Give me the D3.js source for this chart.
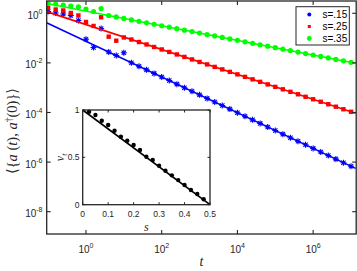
<!DOCTYPE html>
<html><head><meta charset="utf-8">
<script src="https://cdn.jsdelivr.net/npm/d3@7"></script>
<style>body{margin:0;background:#fff}svg{display:block}</style>
</head><body><svg id="c" width="357" height="271"></svg>
<script>
// ---- data ----
const tExp = [-1,-0.8,-0.6,-0.4,-0.2,0,0.2,0.4,0.6,0.8,1,1.2,1.4,1.6,1.8,2,2.2,2.4,2.6,2.8,3,3.2,3.4,3.6,3.8,4,4.2,4.4,4.6,4.8,5,5.2,5.4,5.6,5.8,6,6.2,6.4,6.6,6.8,7];
const blueVals = [1.18,1.03,0.94,0.81,0.51,0.0895,0.0418,0.244,0.0275,0.0198,0.0258,1.02e-2,7.31e-3,5.25e-3,3.77e-3,2.70e-3,1.94e-3,1.39e-3,1.00e-3,7.18e-4,5.15e-4,3.70e-4,2.65e-4,1.91e-4,1.37e-4,9.82e-5,7.05e-5,5.06e-5,3.63e-5,2.61e-5,1.87e-5,1.34e-5,9.64e-6,6.92e-6,4.97e-6,3.56e-6,2.56e-6,1.84e-6,1.32e-6,9.46e-7,6.79e-7];
const redVals = [1.64,1.42,1.30,1.03,0.815,0.446,0.308,0.690,0.114,0.0785,0.106,0.0877,0.0695,0.0552,0.0438,0.0348,0.0276,0.0219,0.0174,0.0138,0.0109,8.69e-3,6.89e-3,5.47e-3,4.34e-3,3.44e-3,2.73e-3,2.17e-3,1.72e-3,1.36e-3,1.08e-3,8.60e-4,6.83e-4,5.42e-4,4.30e-4,3.41e-4,2.71e-4,2.15e-4,1.71e-4,1.35e-4,1.07e-4];
const greenVals = [2.48,2.37,2.16,1.97,1.80,1.49,1.18,1.56,0.815,0.711,0.621,0.542,0.473,0.413,0.361,0.315,0.275,0.240,0.209,0.183,0.160,0.139,0.122,0.106,0.0927,0.0809,0.0706,0.0617,0.0538,0.0470,0.0410,0.0358,0.0313,0.0273,0.0238,0.0208,0.0182,0.0158,0.0138,0.0121,0.0105];
const fitT = [0.0912, 1.32e7];
const blueFit = [0.418, 5.57e-7];
const redFit = [1.167, 9.35e-5];
const greenFit = [2.48, 9.72e-3];
const seriesNames = ["s=.15","s=.25","s=.35"];
const seriesColors = ["#0000ff","#ff0000","#00ff00"];
const xTickExp = [0,2,4,6];
const yTickExp = [0,-2,-4,-6,-8];
const xDomain = [0.0918, 1.371e7];
const yDomain = [1.26e-9, 3.13];
// inset
const insetS = [0.025,0.05,0.075,0.1,0.125,0.15,0.175,0.2,0.225,0.25,0.275,0.3,0.325,0.35,0.375,0.4,0.425,0.45,0.475];
const insetNu = [0.982,0.947,0.887,0.842,0.781,0.718,0.676,0.630,0.578,0.507,0.472,0.412,0.359,0.31,0.26,0.208,0.155,0.113,0.057];
const insetLineS = [0,0.5];
const insetLineNu = [1,0];
const insetXTicks = [0,0.1,0.2,0.3,0.4,0.5];
const insetYTicks = [0,0.5,1];

// ---- drawing ----
const svg = d3.select("#c");
const axc = "#262626";
const L = 46.7, R = 356.2, T = 1, B = 234;
const x = d3.scaleLog().domain(xDomain).range([L, R]);
const y = d3.scaleLog().domain(yDomain).range([B, T]);

svg.append("defs").append("clipPath").attr("id","clip")
  .append("rect").attr("x",L).attr("y",T).attr("width",R-L).attr("height",B-T);

const g = svg.append("g").attr("clip-path","url(#clip)");

const fits = [blueFit, redFit, greenFit];
const vals = [blueVals, redVals, greenVals];
const line = d3.line().x(d=>x(d[0])).y(d=>y(d[1]));

function drawMarkers(i){
  const pts = tExp.map((e,j)=>[Math.pow(10,e), vals[i][j]]);
  const c = seriesColors[i];
  if(i===0){
    const r=3;
    g.append("g").selectAll("path").data(pts).join("path")
      .attr("d", d=>{const cx=x(d[0]), cy=y(d[1]); const q=r*0.72;
        return `M${cx-r},${cy}L${cx+r},${cy}M${cx},${cy-r}L${cx},${cy+r}M${cx-q},${cy-q}L${cx+q},${cy+q}M${cx-q},${cy+q}L${cx+q},${cy-q}`;})
      .attr("stroke",c).attr("stroke-width",1.1).attr("fill","none");
  } else if(i===1){
    const s=4.4;
    g.append("g").selectAll("rect").data(pts).join("rect")
      .attr("x",d=>x(d[0])-s/2).attr("y",d=>y(d[1])-s/2).attr("width",s).attr("height",s)
      .attr("fill",c);
  } else {
    g.append("g").selectAll("circle").data(pts).join("circle")
      .attr("cx",d=>x(d[0])).attr("cy",d=>y(d[1])).attr("r",2.6).attr("fill",c);
  }
}
[0,1,2].forEach(i=>{
  drawMarkers(i);
  g.append("path").datum(fitT.map((t,j)=>[t,fits[i][j]]))
    .attr("d",line).attr("stroke",seriesColors[i]).attr("stroke-width",1.6).attr("fill","none");
});

const ax = svg.append("g");
ax.append("rect").attr("x",L).attr("y",T).attr("width",R-L).attr("height",B-T)
  .attr("fill","none").attr("stroke",axc).attr("stroke-width",1.3);
const tl = 4;
xTickExp.forEach(e=>{
  const px = x(Math.pow(10,e));
  ax.append("line").attr("x1",px).attr("x2",px).attr("y1",B).attr("y2",B-tl).attr("stroke",axc).attr("stroke-width",1.1);
  ax.append("line").attr("x1",px).attr("x2",px).attr("y1",T).attr("y2",T+tl).attr("stroke",axc).attr("stroke-width",1.1);
  const t = ax.append("text").attr("x",px).attr("y",253).attr("text-anchor","middle")
    .attr("font-family","Liberation Sans, Arial, sans-serif").attr("font-size",10).attr("fill",axc);
  t.append("tspan").text("10");
  t.append("tspan").attr("dy",-5).attr("font-size",7).text(e);
});
yTickExp.forEach(e=>{
  const py = y(Math.pow(10,e));
  ax.append("line").attr("x1",L).attr("x2",L+tl).attr("y1",py).attr("y2",py).attr("stroke",axc).attr("stroke-width",1.1);
  ax.append("line").attr("x1",R).attr("x2",R-tl).attr("y1",py).attr("y2",py).attr("stroke",axc).attr("stroke-width",1.1);
  const t = ax.append("text").attr("x",42.5).attr("y",py+5.5).attr("text-anchor","end")
    .attr("font-family","Liberation Sans, Arial, sans-serif").attr("font-size",10).attr("fill",axc);
  t.append("tspan").text("10");
  t.append("tspan").attr("dy",-5).attr("font-size",7).text(e===0?"0":"-"+(-e));
});
svg.append("text").attr("x",(L+R)/2).attr("y",266).attr("text-anchor","middle")
  .attr("font-family","Liberation Serif, DejaVu Serif, serif").attr("font-style","italic")
  .attr("font-size",14).attr("fill",axc).text("t");
const yl = svg.append("text").attr("transform",`translate(16.5,131) rotate(-90)`).attr("text-anchor","middle")
  .attr("font-family","Liberation Serif, DejaVu Serif, serif").attr("font-size",14.5).attr("fill",axc);
yl.append("tspan").text("⟨{");
yl.append("tspan").attr("font-style","italic").text("a");
yl.append("tspan").text(" (");
yl.append("tspan").attr("font-style","italic").text("t");
yl.append("tspan").text("), ");
yl.append("tspan").attr("font-style","italic").text("a");
yl.append("tspan").attr("dy",-5).attr("font-size",9.5).text("†");
yl.append("tspan").attr("dy",5).text("(0)}⟩");

const lg = svg.append("g");
lg.append("rect").attr("x",296).attr("y",6.7).attr("width",53.3).attr("height",38.3)
  .attr("fill","#fff").attr("stroke",axc).attr("stroke-width",1);
const rowsY = [14.5,26.5,38.5];
seriesNames.forEach((n,i)=>{
  if(i===1) lg.append("rect").attr("x",307.8).attr("y",rowsY[i]-1.5).attr("width",3).attr("height",3).attr("fill",seriesColors[i]);
  else lg.append("circle").attr("cx",309.3).attr("cy",rowsY[i]).attr("r",i===0?2:2.4).attr("fill",seriesColors[i]);
  lg.append("text").attr("x",322.5).attr("y",rowsY[i]+3.8)
    .attr("font-family","Liberation Sans, Arial, sans-serif").attr("font-size",10).attr("fill","#000").text(n);
});

const iL=82.7, iR=210, iT=110, iB=204.7;
const ix = d3.scaleLinear().domain([0,0.5]).range([iL,iR]);
const iy = d3.scaleLinear().domain([0,1]).range([iB,iT]);
const ins = svg.append("g");
ins.append("rect").attr("x",iL).attr("y",iT).attr("width",iR-iL).attr("height",iB-iT).attr("fill","#fff");
ins.append("path").datum(insetLineS.map((s,j)=>[s,insetLineNu[j]]))
  .attr("d",d3.line().x(d=>ix(d[0])).y(d=>iy(d[1]))).attr("stroke","#000").attr("stroke-width",1.6).attr("fill","none");
ins.append("g").selectAll("circle").data(insetS.map((s,j)=>[s,insetNu[j]])).join("circle")
  .attr("cx",d=>ix(d[0])).attr("cy",d=>iy(d[1])).attr("r",2.2).attr("fill","#000");
ins.append("rect").attr("x",iL).attr("y",iT).attr("width",iR-iL).attr("height",iB-iT)
  .attr("fill","none").attr("stroke",axc).attr("stroke-width",1.3);
insetXTicks.forEach(v=>{
  const px=ix(v);
  ins.append("line").attr("x1",px).attr("x2",px).attr("y1",iB).attr("y2",iB-2.5).attr("stroke",axc);
  ins.append("line").attr("x1",px).attr("x2",px).attr("y1",iT).attr("y2",iT+2.5).attr("stroke",axc);
  ins.append("text").attr("x",px).attr("y",217).attr("text-anchor","middle")
    .attr("font-family","Liberation Sans, Arial, sans-serif").attr("font-size",8.5).attr("fill",axc).text(v);
});
insetYTicks.forEach(v=>{
  const py=iy(v);
  ins.append("line").attr("x1",iL).attr("x2",iL+2.5).attr("y1",py).attr("y2",py).attr("stroke",axc);
  ins.append("line").attr("x1",iR).attr("x2",iR-2.5).attr("y1",py).attr("y2",py).attr("stroke",axc);
  ins.append("text").attr("x",79.5).attr("y",py+3).attr("text-anchor","end")
    .attr("font-family","Liberation Sans, Arial, sans-serif").attr("font-size",8.5).attr("fill",axc).text(v);
});
ins.append("text").attr("x",(iL+iR)/2).attr("y",231).attr("text-anchor","middle")
  .attr("font-family","Liberation Serif, DejaVu Serif, serif").attr("font-style","italic")
  .attr("font-size",12).attr("fill",axc).text("s");
const nl = ins.append("text").attr("transform",`translate(64,${(iT+iB)/2}) rotate(-90)`).attr("text-anchor","middle")
  .attr("font-family","Liberation Serif, DejaVu Serif, serif").attr("font-style","italic")
  .attr("font-size",12).attr("fill",axc);
nl.append("tspan").text("ν");
nl.append("tspan").attr("dy",3).attr("font-size",8).text("t");
</script></body></html>
